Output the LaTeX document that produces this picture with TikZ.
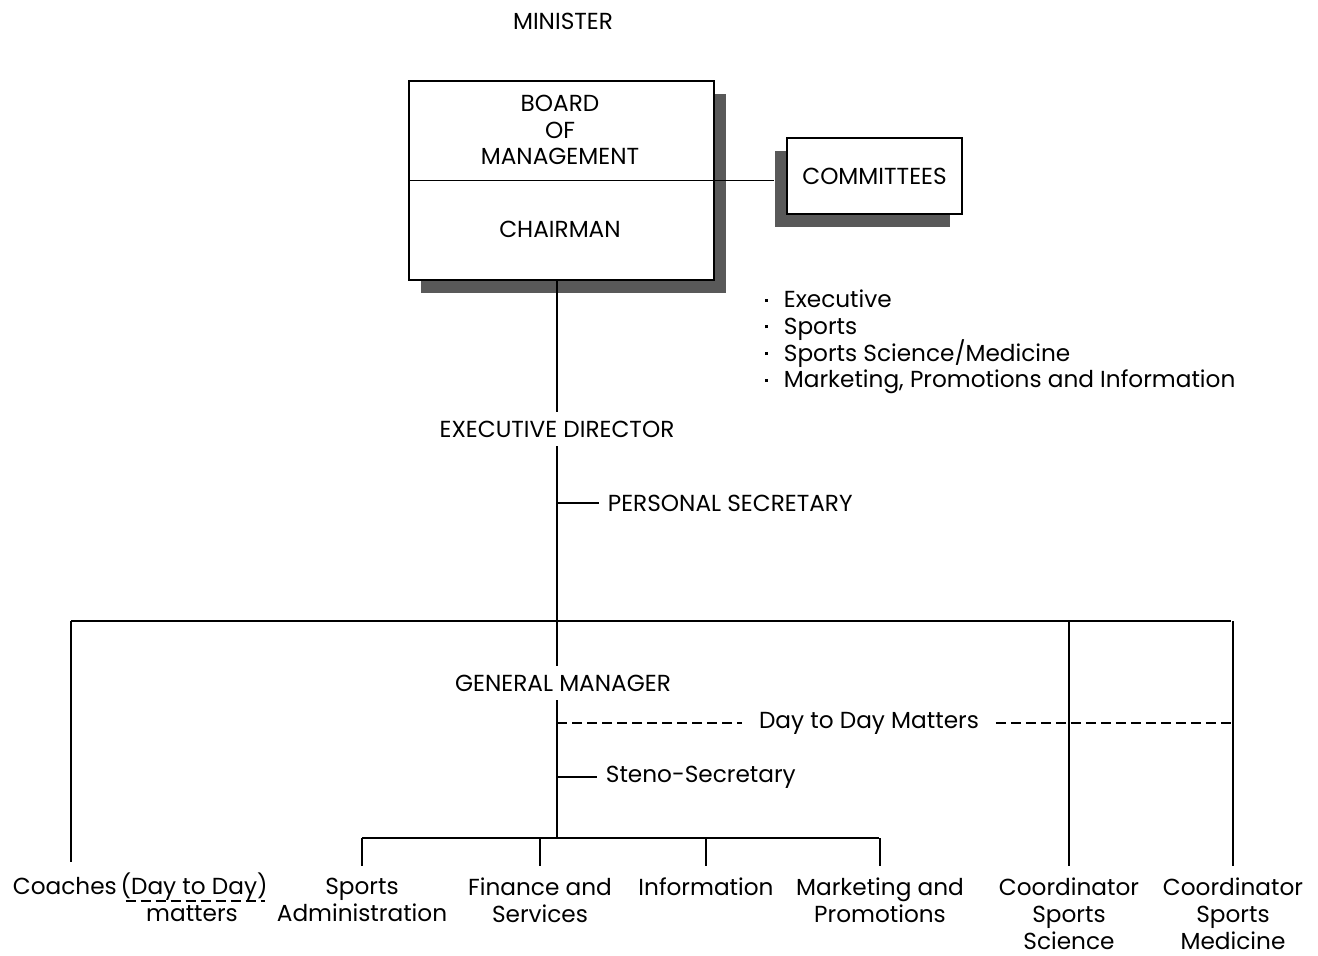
\documentclass[tikz,border=0pt]{standalone}
\usepackage{fontspec}
\setmainfont{Poppins}
\usetikzlibrary{shadows}

\newcommand{\orgfont}{\fontsize{11.6}{13.4}\selectfont\lineskiplimit=-6pt}
\newcommand{\itembul}{\raisebox{3pt}{\rule{1.5pt}{1.5pt}}\hspace{8pt}}

\begin{document}
\begin{tikzpicture}[x=0.5pt, y=-0.5pt, line width=0.9pt,
  lbl/.style={font=\orgfont, inner sep=4pt, align=center},
  unit/.style={lbl, anchor=north, inner ysep=1.5pt, outer ysep=4.5pt},
  box/.style={draw, fill=white, line width=0.9pt},
  shade/.style={drop shadow={shadow xshift=#1, shadow yshift=-6.5pt, fill=black!65, opacity=1}},
  dayline/.style={dash pattern=on 5pt off 2.5pt}]
\useasboundingbox (0,0) rectangle (1318,955);

% minister
\node[lbl] (minister) at (563,21) {MINISTER};

% board of management / chairman
\node[box, shade=6pt, minimum width=152.5pt, minimum height=99.5pt] (board) at (561.5,180.5) {};
\draw (board.west) -- (board.east);
\node[lbl] (bom) at (560,130) {BOARD\\OF\\MANAGEMENT};
\node[lbl] (chair) at (560,229) {CHAIRMAN};

% committees
\node[box, shade=-6pt, minimum width=87.5pt, minimum height=38pt] (comm) at (874.5,176) {\orgfont COMMITTEES};
\draw (board.east) -- ([xshift=-6pt]comm.west |- board.east);
\node[lbl, anchor=north west, align=left, inner sep=0pt] (topics) at (764,289)
  {\itembul Executive\\ \itembul Sports\\ \itembul Sports Science/Medicine\\ \itembul Marketing, Promotions and Information};

% executive director
\node[lbl] (exec) at (557,429) {EXECUTIVE DIRECTOR};
\draw (exec.north |- board.south) -- (exec.north);
\node[lbl, anchor=west] (psec) at (599,503) {PERSONAL SECRETARY};
\draw (exec.south |- psec.west) -- (psec.west);

% main bar
\coordinate (top) at (557,621);
\coordinate (barL) at (71,621);
\coordinate (barR) at (1231,621);
\draw (exec.south) -- (top);
\draw (barL) -- (barR);

% general manager
\node[lbl] (gm) at (563,683) {GENERAL MANAGER};
\coordinate (low) at (557,838);
\coordinate (lowL) at (362,838);
\coordinate (lowR) at (879,838);
\draw (top) -- (top |- gm.north);
\draw (top |- gm.south) -- (low);
\draw (lowL) -- (lowR);
\node[lbl, inner xsep=8pt] (d2d) at (869,723) {Day to Day Matters};
\draw[dayline] (top |- d2d.west) -- (d2d.west);
\draw[dayline] (d2d.east) -- (barR |- d2d.east);
\node[lbl, anchor=west] (steno) at (597,777) {Steno-Secretary};
\draw (low |- steno.west) -- (steno.west);

% units
\node[lbl, anchor=base west, inner sep=0pt] (coach) at (12,894) {Coaches};
\node[lbl, anchor=base west, inner sep=0pt] (coachday) at ([xshift=1pt]coach.base east) {(Day to Day)};
\draw[dayline, line width=0.6pt] ([xshift=3pt,yshift=-3.5pt]coachday.base west) -- ([xshift=-2pt,yshift=-3.5pt]coachday.base east);
\node[lbl, anchor=base, inner sep=0pt] (matters) at (192,921) {matters};
\node[unit] (sadmin) at (362,866) {Sports\\Administration};
\node[unit] (finance) at (540,866) {Finance and\\Services};
\node[unit] (info) at (706,866) {Information};
\node[unit] (market) at (880,866) {Marketing and\\Promotions};
\node[unit] (cscience) at (1069,866) {Coordinator\\Sports\\Science};
\node[unit] (cmedicine) at (1233,866) {Coordinator\\Sports\\Medicine};
\draw (barL) -- ([yshift=7pt]barL |- coach.north);
\foreach \u in {sadmin,finance,info,market}
  \draw (\u.north |- low) -- (\u.north);
\foreach \u in {cscience,cmedicine}
  \draw (\u.north |- barR) -- (\u.north);

\end{tikzpicture}
\end{document}
